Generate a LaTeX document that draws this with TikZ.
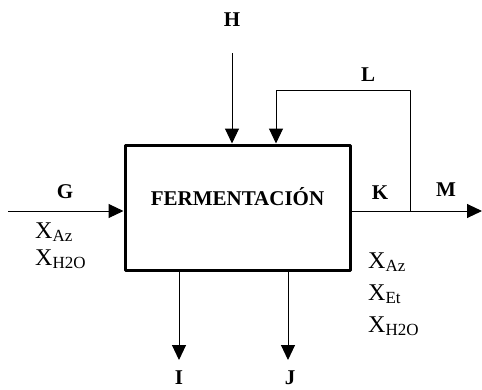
\documentclass[tikz,border=0pt]{standalone}
\usepackage{fontspec}
\setmainfont{Liberation Serif}
\usetikzlibrary{arrows.meta}
\newcommand{\xsub}[1]{X\raisebox{-3pt}{\fontsize{17}{17}\selectfont #1}}
\begin{document}
\begin{tikzpicture}[x=1pt,y=-1pt,line join=round,>={Triangle[width=14pt,length=15pt]},
  lab/.style={font=\fontsize{21}{24}\selectfont\bfseries},
  frac/.style={font=\fontsize{24}{26}\selectfont,anchor=base west,inner sep=0pt},
  flow/.style={->,line width=1pt}]
\useasboundingbox (0,0) rectangle (482,389);
\path
(237.5,207.5) node[draw,line width=3pt,minimum width=225pt,minimum height=125pt,inner sep=0pt] (ferm) {}
(8,211) coordinate (G)
(232,53) coordinate (H)
(276,90) coordinate (Lc)
(410,90) coordinate (Lr)
(410,211) coordinate (Ls)
(482,211) coordinate (M)
(179,360) coordinate (I)
(288,360) coordinate (J)
;
\draw[flow] (G) -- (G -| ferm.west);
\draw[flow] (H) -- (H |- ferm.north);
\draw[flow] (Ls) -- (Lr) -- (Lc) -- (Lc |- ferm.north);
\draw[flow] (ferm.east |- Ls) -- (M);
\draw[flow] (I |- ferm.south) -- (I);
\draw[flow] (J |- ferm.south) -- (J);
% labels
\node[lab] (fermtext) at (237.5,197) {FERMENTACIÓN};
\node[lab] (hlab) at (232,20) {H};
\node[lab] (llab) at (368,75) {L};
\node[lab] (glab) at (65,192) {G};
\node[lab] (klab) at (380,193) {K};
\node[lab] (mlab) at (446,190) {M};
\node[lab] (ilab) at (179,378) {I};
\node[lab] (jlab) at (290,378) {J};
% fractions
\node[frac] (gaz) at (35,238) {\xsub{Az}};
\node[frac] (gh2o) at (35,265) {\xsub{H2O}};
\node[frac] (kaz) at (368,268) {\xsub{Az}};
\node[frac] (ket) at (368,300) {\xsub{Et}};
\node[frac] (kh2o) at (368,332) {\xsub{H2O}};
\end{tikzpicture}
\end{document}
